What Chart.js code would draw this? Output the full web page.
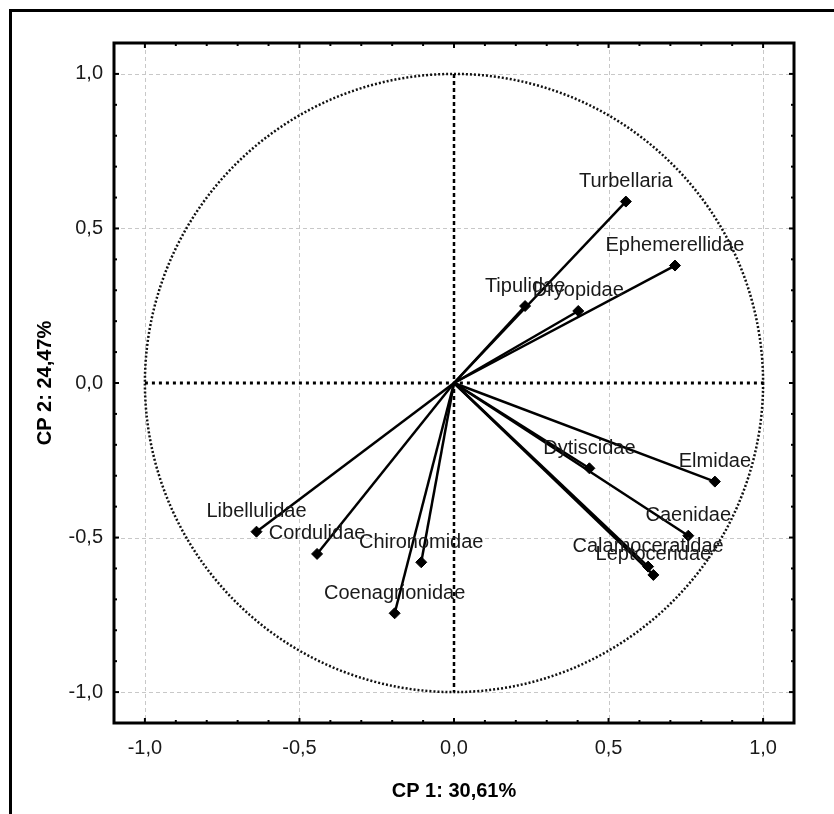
<!DOCTYPE html>
<html>
<head>
<meta charset="utf-8">
<script src="https://cdn.jsdelivr.net/npm/chart.js@4.4.1/dist/chart.umd.min.js"></script>
<style>
  html, body { margin: 0; padding: 0; background: #fff; }
  canvas { display: block; }
</style>
</head>
<body>
<canvas id="chart" width="834" height="814"></canvas>
<script>
"use strict";

// loadings
const taxa = ["Turbellaria", "Ephemerellidae", "Tipulidae", "Dryopidae", "Elmidae", "Dytiscidae",
  "Caenidae", "Calamoceratidae", "Leptoceridae", "Libellulidae", "Cordulidae", "Chironomidae", "Coenagrionidae"];
const cp1 = [0.556, 0.715, 0.230, 0.402, 0.844, 0.438, 0.758, 0.628, 0.645, -0.639, -0.443, -0.106, -0.192];
const cp2 = [0.587, 0.380, 0.249, 0.233, -0.319, -0.276, -0.494, -0.594, -0.621, -0.481, -0.553, -0.580, -0.745];

const tickVals = [-1, -0.5, 0, 0.5, 1];
const minorVals = [-1.1, -1.0, -0.9, -0.8, -0.7, -0.6, -0.5, -0.4, -0.3, -0.2, -0.1, 0,
  0.1, 0.2, 0.3, 0.4, 0.5, 0.6, 0.7, 0.8, 0.9, 1.0, 1.1];

const font = "'Liberation Sans', Arial, sans-serif";

function fmt(v) {
  return v.toFixed(1).replace(".", ",");
}

function line(ctx, x1, y1, x2, y2) {
  ctx.beginPath();
  ctx.moveTo(x1, y1);
  ctx.lineTo(x2, y2);
  ctx.stroke();
}

// grid, unit circle and the zero lines, under the vectors
const decor = {
  id: "decor",
  beforeDatasetsDraw(chart) {
    const ctx = chart.ctx;
    const a = chart.chartArea;
    const x = chart.scales.x;
    const y = chart.scales.y;
    ctx.save();
    ctx.strokeStyle = "#c8c8c8";
    ctx.lineWidth = 1;
    ctx.setLineDash([4, 3]);
    tickVals.forEach(v => {
      if (v === 0) return;
      const px = Math.round(x.getPixelForValue(v)) + 0.5;
      line(ctx, px, a.top, px, a.bottom);
      const py = Math.round(y.getPixelForValue(v)) + 0.5;
      line(ctx, a.left, py, a.right, py);
    });

    const cx = x.getPixelForValue(0);
    const cy = y.getPixelForValue(0);
    const rx = x.getPixelForValue(1) - cx;
    const ry = cy - y.getPixelForValue(1);
    ctx.strokeStyle = "#111";
    ctx.lineWidth = 2.5;
    ctx.setLineDash([2, 2]);
    ctx.beginPath();
    ctx.ellipse(cx, cy, rx, ry, 0, 0, Math.PI * 2);
    ctx.stroke();

    ctx.strokeStyle = "#000";
    ctx.lineWidth = 2.5;
    ctx.setLineDash([4, 3]);
    line(ctx, cx, y.getPixelForValue(1), cx, y.getPixelForValue(-1));
    ctx.lineWidth = 3;
    ctx.setLineDash([3, 4]);
    line(ctx, x.getPixelForValue(-1), cy, x.getPixelForValue(1), cy);
    ctx.restore();
  },
  afterDatasetsDraw(chart) {
    const ctx = chart.ctx;
    const a = chart.chartArea;
    const x = chart.scales.x;
    const y = chart.scales.y;
    ctx.save();

    // taxon names above the arrow heads
    ctx.fillStyle = "#1a1a1a";
    ctx.font = "20px " + font;
    ctx.textAlign = "center";
    ctx.textBaseline = "middle";
    taxa.forEach((name, i) => {
      ctx.fillText(name, x.getPixelForValue(cp1[i]), y.getPixelForValue(cp2[i]) - 20);
    });

    // plot frame
    ctx.strokeStyle = "#000";
    ctx.lineWidth = 3;
    ctx.setLineDash([]);
    ctx.strokeRect(a.left, a.top, a.right - a.left, a.bottom - a.top);

    // inward ticks on all four sides
    ctx.lineWidth = 2;
    minorVals.forEach(v => {
      const major = Math.abs(Math.round(v * 10) % 5) === 0;
      const len = major ? 5 : 3;
      const px = x.getPixelForValue(v);
      const py = y.getPixelForValue(v);
      if (px > a.left + 2 && px < a.right - 2) {
        line(ctx, px, a.bottom, px, a.bottom - len);
        line(ctx, px, a.top, px, a.top + len);
      }
      if (py > a.top + 2 && py < a.bottom - 2) {
        line(ctx, a.left, py, a.left + len, py);
        line(ctx, a.right, py, a.right - len, py);
      }
    });
    ctx.restore();
  },
  afterDraw(chart) {
    const ctx = chart.ctx;
    ctx.save();
    ctx.strokeStyle = "#000";
    ctx.lineWidth = 3;
    line(ctx, 10.5, 9, 10.5, chart.height);
    line(ctx, 9, 10.5, chart.width, 10.5);
    ctx.restore();
  }
};

const datasets = taxa.map((name, i) => ({
  label: name,
  data: [{ x: 0, y: 0 }, { x: cp1[i], y: cp2[i] }],
  showLine: true,
  borderColor: "#000",
  borderWidth: 2.5,
  pointStyle: "rectRot",
  pointRadius: ctx => (ctx.dataIndex === 1 ? 5.5 : 0),
  pointHoverRadius: ctx => (ctx.dataIndex === 1 ? 5.5 : 0),
  pointBackgroundColor: "#000",
  pointBorderColor: "#000",
  pointBorderWidth: 1
}));

const config = {
  type: "scatter",
  data: { datasets: datasets },
  options: {
    responsive: false,
    animation: false,
    layout: { padding: { left: 0, top: 43, right: 40, bottom: 0 } },
    plugins: { legend: { display: false }, tooltip: { enabled: false } },
    scales: {
      x: {
        type: "linear",
        min: -1.1,
        max: 1.1,
        afterBuildTicks: s => { s.ticks = tickVals.map(v => ({ value: v })); },
        afterFit: s => { s.height = 91; },
        grid: { display: false, drawTicks: false },
        border: { display: false },
        ticks: { padding: 13, color: "#1a1a1a", font: { family: font, size: 20 }, callback: v => fmt(v) },
        title: { display: true, text: "CP 1: 30,61%", color: "#000",
          font: { family: font, size: 20, weight: "bold" }, padding: { top: 0, bottom: 11 } }
      },
      y: {
        type: "linear",
        min: -1.1,
        max: 1.1,
        afterBuildTicks: s => { s.ticks = tickVals.map(v => ({ value: v })); },
        afterFit: s => { s.width = 114; },
        grid: { display: false, drawTicks: false },
        border: { display: false },
        ticks: { padding: 11, color: "#1a1a1a", font: { family: font, size: 20 }, callback: v => fmt(v) },
        title: { display: true, text: "CP 2: 24,47%", color: "#000",
          font: { family: font, size: 20, weight: "bold" }, padding: { top: 33, bottom: 0 } }
      }
    }
  },
  plugins: [decor]
};

const pcaChart = new Chart(document.getElementById("chart"), config);
</script>
</body>
</html>
